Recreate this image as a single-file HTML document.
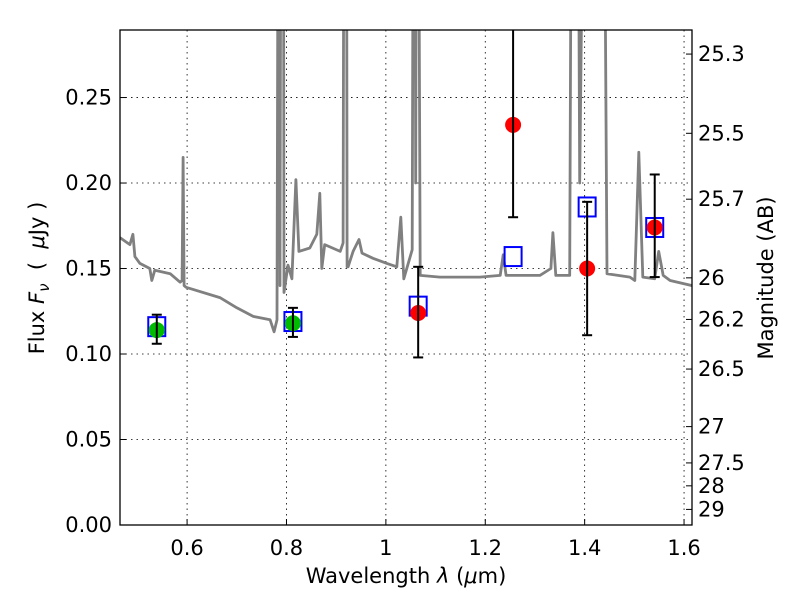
<!DOCTYPE html>
<html><head><meta charset="utf-8"><style>
body{margin:0;background:#fff}
svg text{font-family:"DejaVu Sans","Liberation Sans",sans-serif;fill:#000}
</style></head><body>
<svg id="chart" width="800" height="600" viewBox="0 0 800 600" xmlns="http://www.w3.org/2000/svg">
<defs><clipPath id="clip"><rect x="120" y="30" width="572" height="495"/></clipPath></defs>
<rect x="0" y="0" width="800" height="600" fill="#fff"/>
<g id="grid"></g>
<g id="plot" clip-path="url(#clip)"></g>
<rect x="120" y="30" width="572" height="495" fill="none" stroke="#000" stroke-width="1.3"/>
<g id="axes"></g>
<text x="406" y="583" font-size="21" text-anchor="middle">Wavelength  <tspan font-style="italic">λ</tspan> (<tspan font-style="italic">μ</tspan>m)</text>
<text transform="translate(44,278) rotate(-90)" font-size="21" text-anchor="middle">Flux  <tspan font-style="italic">F</tspan><tspan font-style="italic" font-size="15" dy="5">ν</tspan><tspan dy="-5" xml:space="preserve">  (  </tspan><tspan font-style="italic">μ</tspan>Jy )</text>
<text transform="translate(773,278) rotate(-90)" font-size="21" text-anchor="middle">Magnitude (AB)</text>
</svg>
<script>
const specWl=[0.465,0.485,0.491,0.495,0.505,0.525,0.529,0.535,0.566,0.586,0.590,0.592,0.594,0.598,0.666,0.700,0.733,0.767,0.775,0.781,0.785,0.787,0.790,0.793,0.795,0.803,0.811,0.819,0.825,0.847,0.861,0.867,0.871,0.877,0.908,0.914,0.917,0.920,0.922,0.924,0.934,0.946,0.952,0.974,1.002,1.022,1.030,1.036,1.053,1.057,1.060,1.063,1.069,1.109,1.149,1.189,1.230,1.236,1.242,1.250,1.310,1.332,1.336,1.342,1.370,1.376,1.384,1.390,1.405,1.435,1.445,1.491,1.501,1.509,1.517,1.541,1.549,1.558,1.572,1.616];
const specFlux=[0.168,0.164,0.170,0.157,0.153,0.150,0.143,0.149,0.147,0.142,0.143,0.215,0.140,0.139,0.133,0.127,0.122,0.120,0.113,0.120,0.6,0.14,0.6,0.6,0.136,0.152,0.144,0.202,0.160,0.162,0.170,0.194,0.150,0.164,0.160,0.165,0.6,0.6,0.151,0.151,0.160,0.167,0.159,0.156,0.153,0.151,0.180,0.144,0.161,0.6,0.2,0.6,0.146,0.145,0.145,0.145,0.146,0.158,0.146,0.146,0.146,0.150,0.171,0.146,0.146,0.6,0.6,0.2,0.6,0.6,0.147,0.145,0.143,0.218,0.145,0.144,0.160,0.146,0.143,0.140];
const photWl=[0.539,0.813,1.065,1.256,1.405,1.541];
const photFlux=[0.114,0.118,0.124,0.234,0.150,0.174];
const photHi=[0.123,0.127,0.151,0.30,0.189,0.205];
const photLo=[0.106,0.110,0.098,0.180,0.111,0.145];
const photColor=['green','green','red','red','red','red'];
const modelFlux=[0.116,0.119,0.128,0.157,0.186,0.174];
const xTicks=[0.6,0.8,1.0,1.2,1.4,1.6];
const xTickLabels=['0.6','0.8','1','1.2','1.4','1.6'];
const yTicks=[0,0.05,0.10,0.15,0.20,0.25];
const yTickLabels=['0.00','0.05','0.10','0.15','0.20','0.25'];
const magTicks=[25.3,25.5,25.7,26,26.2,26.5,27,27.5,28,29];
const magLabels=['25.3','25.5','25.7','26','26.2','26.5','27','27.5','28','29'];

const X0=0.465,X1=1.616,Y0=0,Y1=0.2895,L=120,R=692,T=30,B=525;
function xs(v){return L+(v-X0)/(X1-X0)*(R-L);}
function ys(v){return B-(v-Y0)/(Y1-Y0)*(B-T);}
function magToFlux(m){return Math.pow(10,(23.9-m)/2.5);}
const NS='http://www.w3.org/2000/svg';
function mk(tag,attrs,parent){const e=document.createElementNS(NS,tag);for(const k in attrs)e.setAttribute(k,attrs[k]);parent.appendChild(e);return e;}
const grid=document.getElementById('grid'),plot=document.getElementById('plot'),axes=document.getElementById('axes');

xTicks.forEach((t,i)=>{
  const x=xs(t);
  const g=mk('line',{x1:x,x2:x,y1:T,y2:B,stroke:'#000','stroke-width':0.8,'stroke-dasharray':'1.5,4'},grid);
  
  
  const tk=mk('line',{x1:x,x2:x,y1:B,y2:B-6,stroke:'#000','stroke-width':1},axes);
  
  
  const tx=mk('text',{x:x,y:B+30,'font-size':21,'text-anchor':'middle'},axes);
  tx.textContent=xTickLabels[i];
  
  
});
yTicks.forEach((t,i)=>{
  const y=ys(t);
  const g=mk('line',{x1:L,x2:R,y1:y,y2:y,stroke:'#000','stroke-width':0.8,'stroke-dasharray':'1.5,4'},grid);
  
  
  const tk=mk('line',{x1:L,x2:L+6,y1:y,y2:y,stroke:'#000','stroke-width':1},axes);
  
  
  const tx=mk('text',{x:L-8,y:y+7,'font-size':21,'text-anchor':'end'},axes);
  tx.textContent=yTickLabels[i];
  
  
});
magTicks.forEach((m,i)=>{
  const y=ys(magToFlux(m));
  const tk=mk('line',{x1:R,x2:R-6,y1:y,y2:y,stroke:'#000','stroke-width':1},axes);
  
  
  const tx=mk('text',{x:R+6,y:y+7,'font-size':21,'text-anchor':'start'},axes);
  tx.textContent=magLabels[i];
  
  
});

let d='';
specWl.forEach((w,i)=>{d+=(i?'L':'M')+xs(w).toFixed(1)+','+ys(specFlux[i]).toFixed(1);});
const sp=mk('path',{d:d,fill:'none',stroke:'#808080','stroke-width':2.8,'stroke-linejoin':'round'},plot);



photWl.forEach((w,i)=>{
  const x=xs(w);
  const sq=mk('rect',{x:x-8.5,y:ys(modelFlux[i])-9.5,width:17,height:19,fill:'none',stroke:'#0000ff','stroke-width':2},plot);
  
  
});
photWl.forEach((w,i)=>{
  const x=xs(w);
  const c=mk('circle',{cx:x,cy:ys(photFlux[i]),r:8,fill:photColor[i]==='green'?'#00bb00':'#ff0000'},plot);
  
  
  const e=mk('line',{x1:x,x2:x,y1:ys(photHi[i]),y2:ys(photLo[i]),stroke:'#000','stroke-width':2},plot);
  
  
  [photHi[i],photLo[i]].forEach(v=>{
    const cap=mk('line',{x1:x-5,x2:x+5,y1:ys(v),y2:ys(v),stroke:'#000','stroke-width':2},plot);
    
    
  });
});
</script>
</body></html>
